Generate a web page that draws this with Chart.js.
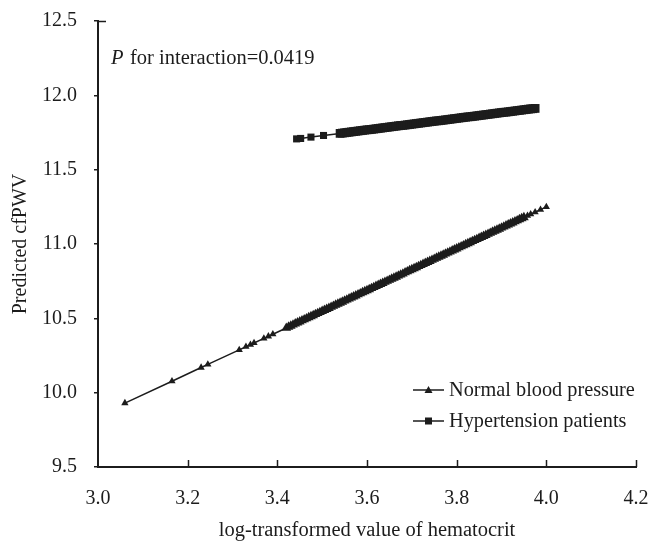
<!DOCTYPE html>
<html>
<head>
<meta charset="utf-8">
<script src="https://cdn.jsdelivr.net/npm/chart.js@4.4.1/dist/chart.umd.min.js"></script>
<style>
  html, body { margin: 0; padding: 0; background: #fff; }
  #wrap { width: 648px; height: 543px; }
</style>
</head>
<body>
<div id="wrap"><canvas id="hctChart" width="648" height="543"></canvas></div>
<script>
// values
const normalX = [3.06, 3.165, 3.23, 3.245, 3.315, 3.33, 3.34, 3.348, 3.37, 3.38, 3.39,
  3.42, 3.425, 3.43, 3.435, 3.44, 3.445, 3.45, 3.455, 3.46, 3.465, 3.47, 3.475, 3.48, 3.485,
  3.49, 3.495, 3.50, 3.505, 3.51, 3.515, 3.52, 3.525, 3.53, 3.535, 3.54, 3.545, 3.55, 3.555,
  3.56, 3.565, 3.57, 3.575, 3.58, 3.585, 3.59, 3.595, 3.60, 3.605, 3.61, 3.615, 3.62, 3.625,
  3.63, 3.635, 3.64, 3.645, 3.65, 3.655, 3.66, 3.665, 3.67, 3.675, 3.68, 3.685, 3.69, 3.695,
  3.70, 3.705, 3.71, 3.715, 3.72, 3.725, 3.73, 3.735, 3.74, 3.745, 3.75, 3.755, 3.76, 3.765,
  3.77, 3.775, 3.78, 3.785, 3.79, 3.795, 3.80, 3.805, 3.81, 3.815, 3.82, 3.825, 3.83, 3.835,
  3.84, 3.845, 3.85, 3.855, 3.86, 3.865, 3.87, 3.875, 3.88, 3.885, 3.89, 3.895, 3.90, 3.905,
  3.91, 3.915, 3.92, 3.925, 3.93, 3.935, 3.94, 3.945, 3.95, 3.958, 3.965, 3.975, 3.987, 4.0];
const normalY = [9.930, 10.077, 10.169, 10.190, 10.288, 10.309, 10.323, 10.334, 10.365, 10.379, 10.393,
  10.435, 10.442, 10.449, 10.457, 10.464, 10.471, 10.478, 10.485, 10.492, 10.499, 10.506, 10.513, 10.520, 10.527,
  10.534, 10.541, 10.548, 10.555, 10.562, 10.569, 10.576, 10.583, 10.590, 10.597, 10.604, 10.611, 10.618, 10.625,
  10.632, 10.639, 10.646, 10.653, 10.660, 10.667, 10.674, 10.681, 10.688, 10.695, 10.702, 10.709, 10.716, 10.723,
  10.730, 10.737, 10.744, 10.751, 10.758, 10.765, 10.772, 10.779, 10.786, 10.793, 10.800, 10.808, 10.815, 10.822,
  10.829, 10.836, 10.843, 10.850, 10.857, 10.864, 10.871, 10.878, 10.885, 10.892, 10.899, 10.906, 10.913, 10.920,
  10.927, 10.934, 10.941, 10.948, 10.955, 10.962, 10.969, 10.976, 10.983, 10.990, 10.997, 11.004, 11.011, 11.018,
  11.025, 11.032, 11.039, 11.046, 11.053, 11.060, 11.067, 11.074, 11.081, 11.088, 11.095, 11.102, 11.109, 11.116,
  11.123, 11.130, 11.137, 11.144, 11.151, 11.158, 11.165, 11.172, 11.179, 11.190, 11.200, 11.214, 11.231, 11.250];

const hyperX = [3.443, 3.452, 3.475, 3.503, 3.54, 3.545, 3.55, 3.555, 3.56, 3.565, 3.57, 3.575,
  3.58, 3.585, 3.59, 3.595, 3.60, 3.605, 3.61, 3.615, 3.62, 3.625, 3.63, 3.635, 3.64, 3.645,
  3.65, 3.655, 3.66, 3.665, 3.67, 3.675, 3.68, 3.685, 3.69, 3.695, 3.70, 3.705, 3.71, 3.715,
  3.72, 3.725, 3.73, 3.735, 3.74, 3.745, 3.75, 3.755, 3.76, 3.765, 3.77, 3.775, 3.78, 3.785,
  3.79, 3.795, 3.80, 3.805, 3.81, 3.815, 3.82, 3.825, 3.83, 3.835, 3.84, 3.845, 3.85, 3.855,
  3.86, 3.865, 3.87, 3.875, 3.88, 3.885, 3.89, 3.895, 3.90, 3.905, 3.91, 3.915, 3.92, 3.925,
  3.93, 3.935, 3.94, 3.945, 3.95, 3.955, 3.96, 3.965, 3.97, 3.975];
const hyperY = [11.707, 11.710, 11.719, 11.730, 11.744, 11.746, 11.748, 11.750, 11.752, 11.754, 11.756, 11.758,
  11.760, 11.762, 11.764, 11.766, 11.768, 11.769, 11.771, 11.773, 11.775, 11.777, 11.779, 11.781, 11.783, 11.785,
  11.787, 11.789, 11.791, 11.793, 11.795, 11.797, 11.798, 11.800, 11.802, 11.804, 11.806, 11.808, 11.810, 11.812,
  11.814, 11.816, 11.818, 11.820, 11.822, 11.824, 11.826, 11.828, 11.829, 11.831, 11.833, 11.835, 11.837, 11.839,
  11.841, 11.843, 11.845, 11.847, 11.849, 11.851, 11.853, 11.855, 11.856, 11.858, 11.860, 11.862, 11.864, 11.866,
  11.868, 11.870, 11.872, 11.874, 11.876, 11.878, 11.880, 11.882, 11.884, 11.886, 11.887, 11.889, 11.891, 11.893,
  11.895, 11.897, 11.899, 11.901, 11.903, 11.905, 11.907, 11.909, 11.910, 11.912];

const seriesNames = ['Normal blood pressure', 'Hypertension patients'];
const xTicks = [3.0, 3.2, 3.4, 3.6, 3.8, 4.0, 4.2];
const yTicks = [9.5, 10.0, 10.5, 11.0, 11.5, 12.0, 12.5];
const noteText = 'for interaction=0.0419';

const ink = '#1c1c1c';
const serif = '"Liberation Serif", "Times New Roman", serif';

const toPoints = (xs, ys) => xs.map((x, i) => ({ x: x, y: ys[i] }));

// overlapping markers in the crowded part read as a thicker band
const triRadius = (c) => {
  const x = c.raw ? c.raw.x : 0;
  return (x >= 3.41 && x <= 3.955) ? 5.6 : 4.2;
};
const boxRadius = (c) => {
  const x = c.raw ? c.raw.x : 0;
  return x >= 3.53 ? 6.2 : 5;
};

// inward x ticks, the P note and the legend
const extras = {
  id: 'extras',
  afterDraw(chart) {
    const ctx = chart.ctx;
    const xs = chart.scales.x;
    const ys = chart.scales.y;
    const area = chart.chartArea;
    ctx.save();
    ctx.strokeStyle = ink;
    ctx.lineWidth = 1.5;
    xTicks.forEach((t) => {
      if (t === xTicks[0]) return;
      const px = Math.round(xs.getPixelForValue(t)) + 0.5;
      ctx.beginPath();
      ctx.moveTo(px, area.bottom);
      ctx.lineTo(px, area.bottom - 7);
      ctx.stroke();
    });
    // small stub at the top of the y axis
    const topY = Math.round(ys.getPixelForValue(12.5)) + 0.5;
    ctx.beginPath();
    ctx.moveTo(area.left, topY);
    ctx.lineTo(area.left + 8, topY);
    ctx.stroke();

    // P note
    ctx.fillStyle = ink;
    ctx.textBaseline = 'alphabetic';
    ctx.font = 'italic 20.5px ' + serif;
    ctx.fillText('P', 111, 64);
    ctx.font = '20.5px ' + serif;
    ctx.fillText(noteText, 130, 64);

    // legend
    const rows = [
      { y: 390, style: 'triangle' },
      { y: 421, style: 'rect' }
    ];
    rows.forEach((r, i) => {
      ctx.strokeStyle = ink;
      ctx.lineWidth = 1.5;
      ctx.beginPath();
      ctx.moveTo(413, r.y);
      ctx.lineTo(444, r.y);
      ctx.stroke();
      ctx.fillStyle = ink;
      if (r.style === 'triangle') {
        ctx.beginPath();
        ctx.moveTo(428.5, r.y - 4);
        ctx.lineTo(432.5, r.y + 3);
        ctx.lineTo(424.5, r.y + 3);
        ctx.closePath();
        ctx.fill();
      } else {
        ctx.fillRect(425, r.y - 3.5, 7, 7);
      }
      ctx.font = '20.3px ' + serif;
      ctx.textBaseline = 'middle';
      ctx.fillText(seriesNames[i], 449, r.y + 1);
    });
    ctx.restore();
  }
};

const ctx = document.getElementById('hctChart').getContext('2d');
new Chart(ctx, {
  type: 'scatter',
  data: {
    datasets: [
      {
        label: seriesNames[0],
        data: toPoints(normalX, normalY),
        showLine: true,
        borderColor: ink,
        backgroundColor: ink,
        borderWidth: 1.5,
        pointStyle: 'triangle',
        pointRadius: triRadius,
        pointBorderWidth: 0
      },
      {
        label: seriesNames[1],
        data: toPoints(hyperX, hyperY),
        showLine: true,
        borderColor: ink,
        backgroundColor: ink,
        borderWidth: 1.5,
        pointStyle: 'rect',
        pointRadius: boxRadius,
        pointBorderWidth: 0
      }
    ]
  },
  options: {
    responsive: false,
    animation: false,
    layout: { padding: { top: 21, right: 12, left: 9, bottom: 0 } },
    plugins: {
      legend: { display: false },
      tooltip: { enabled: false }
    },
    scales: {
      x: {
        type: 'linear',
        min: 3.0,
        max: 4.2,
        afterBuildTicks: (scale) => { scale.ticks = xTicks.map((v) => ({ value: v })); },
        afterFit: (scale) => {
          scale.height = 76;
          scale.paddingLeft = 0;
          scale.paddingRight = 0;
        },
        border: { color: ink, width: 2 },
        grid: { display: false },
        ticks: {
          color: ink,
          padding: 12,
          font: { family: serif, size: 20 },
          callback: (v) => Number(v).toFixed(1)
        },
        title: {
          display: true,
          text: 'log-transformed value of hematocrit',
          color: ink,
          font: { family: serif, size: 20.5 },
          padding: { top: 12, bottom: 0 }
        }
      },
      y: {
        min: 9.5,
        max: 12.5,
        afterBuildTicks: (scale) => { scale.ticks = yTicks.map((v) => ({ value: v })); },
        afterFit: (scale) => {
          scale.width = 89;
          scale.paddingTop = 0;
          scale.paddingBottom = 0;
        },
        border: { color: ink, width: 2 },
        grid: { drawOnChartArea: false, tickLength: 4, color: ink, lineWidth: 1.5 },
        ticks: {
          color: ink,
          padding: 17,
          font: { family: serif, size: 20 },
          callback: (v) => Number(v).toFixed(1)
        },
        title: {
          display: true,
          text: 'Predicted cfPWV',
          color: ink,
          font: { family: serif, size: 20 },
          padding: { top: 0, bottom: 0 }
        }
      }
    }
  },
  plugins: [extras]
});
</script>
</body>
</html>
